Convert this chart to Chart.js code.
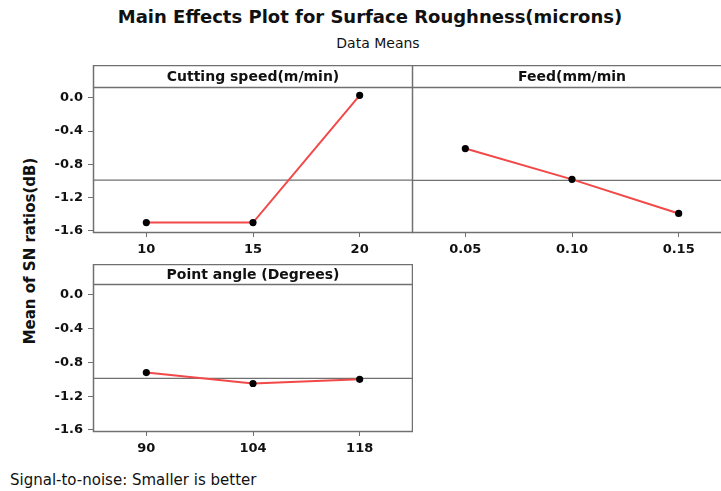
<!DOCTYPE html>
<html>
<head>
<meta charset="utf-8">
<script src="https://cdn.jsdelivr.net/npm/chart.js"></script>
<style>
body{margin:0;background:#fff;width:721px;height:491px;overflow:hidden;position:relative;font-family:"DejaVu Sans",sans-serif;color:#111;}
canvas{position:absolute;}
#titulo{position:absolute;left:0;top:6px;width:740px;text-align:center;font-weight:bold;font-size:18px;}
#sub{position:absolute;left:0;top:35px;width:756px;text-align:center;font-size:14px;}
#ylab{position:absolute;left:30px;top:251px;transform:translate(-50%,-50%) rotate(-90deg);white-space:nowrap;font-weight:bold;font-size:15px;}
#pie{position:absolute;left:10px;top:471px;font-size:15px;}
</style>
</head>
<body>
<div id="titulo">Main Effects Plot for Surface Roughness(microns)</div>
<div id="sub">Data Means</div>
<div id="ylab">Mean of SN ratios(dB)</div>
<div id="pie">Signal-to-noise: Smaller is better</div>
<canvas id="velocidad" width="413" height="198" style="left:0;top:65px"></canvas>
<canvas id="avance" width="320" height="198" style="left:412px;top:65px"></canvas>
<canvas id="angulo" width="413" height="198" style="left:0;top:264px"></canvas>
<script>
var velocidad=['10','15','20'];
var valoresV=[-1.50,-1.50,0.03];

var avance=['0.05','0.10','0.15'];
var valoresA=[-0.61,-0.98,-1.39];

var angulo=['90','104','118'];
var valoresP=[-0.92,-1.05,-1.00];

var ticksY=[0.0,-0.4,-0.8,-1.2,-1.6];

var gris='#707070';

function media(v){
  var s=0;
  for(var x=0;x<v.length;x++){ s+=v[x]; }
  return s/v.length;
}

// marco del panel, cabecera y linea de la media
var marco={
  id:'marco',
  beforeDatasetsDraw:function(chart,args,opts){
    var a=chart.chartArea, ctx=chart.ctx;
    var y=chart.scales.y.getPixelForValue(opts.media);
    ctx.save();
    ctx.strokeStyle=gris;
    ctx.lineWidth=1.3;
    ctx.beginPath();
    ctx.moveTo(a.left,y);
    ctx.lineTo(a.right,y);
    ctx.stroke();
    ctx.restore();
  },
  afterDraw:function(chart,args,opts){
    var a=chart.chartArea, ctx=chart.ctx;
    ctx.save();
    ctx.strokeStyle=gris;
    ctx.lineWidth=1.5;
    ctx.strokeRect(a.left+0.5,a.top-opts.alto+0.5,a.right-a.left-1,a.bottom-a.top+opts.alto-1);
    ctx.beginPath();
    ctx.moveTo(a.left,a.top+0.5);
    ctx.lineTo(a.right,a.top+0.5);
    ctx.stroke();
    ctx.fillStyle='#111';
    ctx.font='bold 14px "DejaVu Sans"';
    ctx.textAlign='center';
    ctx.textBaseline='middle';
    ctx.fillText(opts.texto,(a.left+a.right)/2,a.top-opts.alto/2+1);
    ctx.restore();
  }
};

function Grafica(id,etiquetas,valores,texto,alto,conEje){
var ctx=document.getElementById(id).getContext('2d');
var myChart=new Chart(ctx,{
  type:'line',
  data:{
    labels:etiquetas,
    datasets:[{
      data:valores,
      borderColor:'#f24848',
      borderWidth:2,
      pointRadius:2.6,
      pointBackgroundColor:'#000',
      pointBorderColor:'#000',
      tension:0
    }]
  },
  options:{
    responsive:false,
    animation:false,
    layout:{autoPadding:false,padding:{top:alto,left:0,right:0,bottom:0}},
    plugins:{
      legend:{display:false},
      tooltip:{enabled:false},
      marco:{texto:texto,alto:alto,media:media(valores)}
    },
    scales:{
      x:{
        offset:true,
        grid:{drawOnChartArea:false,color:gris,tickLength:4},
        border:{display:false},
        ticks:{color:'#111',padding:5,font:{family:'DejaVu Sans',size:13,weight:'bold'}},
        afterFit:function(s){ s.height=30; s.paddingLeft=0; s.paddingRight=0; }
      },
      y:{
        display:conEje,
        min:-1.625,
        max:0.13,
        grid:{drawOnChartArea:false,color:gris,tickLength:5},
        border:{display:false},
        ticks:{color:'#111',padding:5,font:{family:'DejaVu Sans',size:13,weight:'bold'},
          callback:function(v){ return v.toFixed(1); }},
        afterBuildTicks:function(s){
          s.ticks=ticksY.map(function(v){ return {value:v}; });
        },
        afterFit:function(s){ s.width=conEje?93:0; s.paddingTop=0; s.paddingBottom=0; }
      }
    }
  },
  plugins:[marco]
});
}

Grafica('velocidad',velocidad,valoresV,'Cutting speed(m/min)',22,true);
Grafica('avance',avance,valoresA,'Feed(mm/min',22,false);
Grafica('angulo',angulo,valoresP,'Point angle (Degrees)',20,true);
</script>
</body>
</html>
